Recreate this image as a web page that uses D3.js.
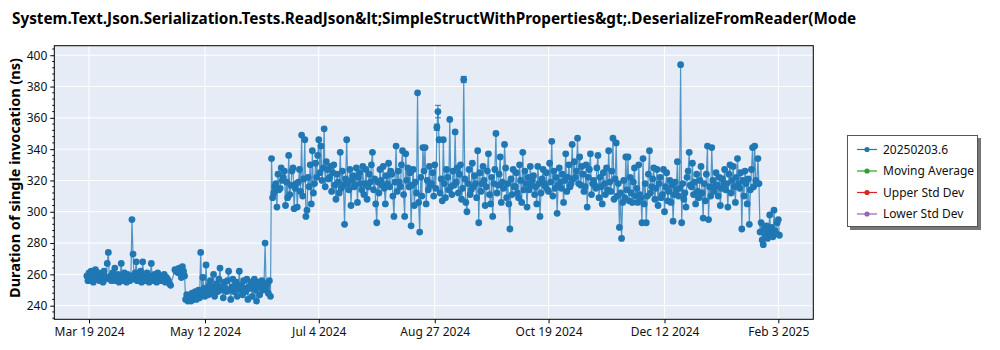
<!DOCTYPE html>
<html><head><meta charset="utf-8">
<script src="https://cdn.jsdelivr.net/npm/d3@7"></script>
<style>
body{margin:0;background:#fff;}
svg{display:block;font-family:"Noto Sans",sans-serif;}
</style>
</head><body>
<svg id="chart" width="1000" height="350"></svg>
<script>
const titleText = "System.Text.Json.Serialization.Tests.ReadJson&lt;SimpleStructWithProperties&gt;.DeserializeFromReader(Mode";
const yLabelText = "Duration of single invocation (ns)";
const startTime = "2024-03-18T00:00:00";
const stepHours = 12;
// two measurements per day, null = no run
const values = [
 // Mar 18 - Apr 26
 259,256,261,257,262,258,255,260,263,257,258,261,256,259,260,255,262,257,258,267,
 274,257,259,256,261,258,264,256,257,260,255,259,267,256,258,261,257,255,260,258,
 256,259,295,273,257,261,268,256,259,257,262,255,268,258,256,260,261,257,255,259,
 267,256,258,260,257,255,261,256,259,258,256,257,260,255,258,257,256,254,253,null,
 null,null,263,262,263,261,264,262,258,265,262,259,
 // May 3 - Jun 11
 244,247,243,246,245,243,248,244,246,249,244,247,250,245,274,248,258,251,246,266,
 250,247,253,256,248,252,260,246,251,254,249,257,264,250,252,245,255,251,249,256,
 262,250,244,252,257,249,251,255,246,253,262,250,253,247,256,251,249,257,244,252,
 251,255,246,253,257,250,243,252,255,247,252,256,250,254,280,251,254,248,256,246,
 // Jun 12 - Jan 24
 334,309,312,316,318,303,324,314,315,328,320,322,326,304,319,309,336,311,317,326,
 328,302,315,318,303,319,327,313,349,310,321,346,297,301,322,316,330,305,339,312,
 318,331,322,336,346,325,342,320,328,353,316,332,327,321,322,329,313,325,330,317,
 308,324,319,312,338,315,326,317,292,321,346,318,314,327,304,320,323,316,317,328,
 306,322,325,318,314,329,311,318,327,308,316,324,319,330,338,314,321,305,293,319,
 312,327,320,317,329,315,305,323,318,331,316,326,324,310,297,319,342,313,326,319,
 316,330,339,311,297,337,320,328,316,325,291,317,327,304,319,312,376,306,287,322,
 310,341,326,341,305,320,314,329,317,318,325,310,330,315,354,364,346,312,321,307,
 346,318,309,327,322,314,359,316,311,326,317,351,319,328,312,324,330,308,315,384.5,
 321,306,300,318,327,311,314,331,316,323,318,309,339,293,325,313,318,329,320,304,
 316,326,337,311,305,322,297,318,327,350,312,317,324,335,306,319,315,343,328,309,
 318,305,289,321,311,327,316,316,325,312,309,330,320,306,338,314,326,318,303,322,
 314,329,317,320,323,311,316,305,329,318,297,312,321,327,318,316,325,314,313,331,
 319,345,310,326,315,322,299,317,328,319,315,324,306,320,337,313,322,330,316,318,
 343,321,332,322,326,347,318,335,317,329,324,313,316,330,303,322,327,337,311,318,
 320,317,315,328,336,309,322,316,305,325,318,311,328,314,339,319,313,326,347,308,
 321,344,310,318,290,312,283,306,320,309,335,314,335,307,322,312,306,319,328,310,
 315,306,330,311,309,293,334,305,318,293,310,324,339,312,316,321,328,308,315,327,
 304,318,322,309,311,327,300,316,325,307,313,320,306,317,294,311,319,314,332,310,
 315,394,293,318,308,312,303,322,326,338,317,316,331,311,319,305,324,313,309,320,
 329,312,296,318,307,324,342,295,316,310,341,320,313,316,325,317,310,322,304,315,
 321,318,327,314,318,303,324,330,312,320,329,316,306,322,334,318,315,325,289,320,
 310,326,318,305,321,292,314,327,341,316,342,320,318,334,
 // Jan 25 - Feb 3
 318,287,293,282,279,289,285,291,283,288,298,286,290,284,301,288,286,293,295,285
];
const errTimes = ["2024-08-28T00:00:00","2024-08-28T12:00:00","2024-09-09T12:00:00"];
const errSizes = [2, 4, 2];
const xTickDates = ["2024-03-19","2024-05-12","2024-07-04","2024-08-27","2024-10-19","2024-12-12","2025-02-03"];
const xTickLabels = ["Mar 19 2024","May 12 2024","Jul 4 2024","Aug 27 2024","Oct 19 2024","Dec 12 2024","Feb 3 2025"];
const yTicks = [240,260,280,300,320,340,360,380,400];
const legendNames = ["20250203.6","Moving Average","Upper Std Dev","Lower Std Dev"];
const legendColors = ["#1f77b4","#2ca02c","#d62728","#9467bd"];

const svg = d3.select("#chart");
const L = 54.3, R = 813.3, T = 45.7, B = 319.3;
const parse = s => new Date(s);
const x = d3.scaleTime().domain([parse("2024-03-02T20:00:00"), parse("2025-02-19T07:00:00")]).range([L, R]);
const y = d3.scaleLinear().domain([231.3, 406.1]).range([B, T]);

const t0 = parse(startTime).getTime();
const data = values.map((v, i) => ({t: new Date(t0 + i * stepHours * 3600e3), v}))
  .filter(d => d.v !== null);

// title
const title = svg.append("text").attr("x", 12).attr("y", 24)
  .attr("font-weight", "bold").attr("font-size", 15).attr("fill", "#000").text(titleText);
const tw = title.node().getComputedTextLength();
title.attr("font-size", 15 * 845 / tw);

// plot background
svg.append("rect").attr("x", L).attr("y", T).attr("width", R - L).attr("height", B - T).attr("fill", "#e5ecf6");

// grid
const tickDates = xTickDates.map(parse);
svg.append("g").selectAll("line").data(tickDates).join("line")
  .attr("x1", d => x(d)).attr("x2", d => x(d)).attr("y1", T).attr("y2", B)
  .attr("stroke", "#fff").attr("stroke-width", 1);
svg.append("g").selectAll("line").data(yTicks).join("line")
  .attr("x1", L).attr("x2", R).attr("y1", d => y(d)).attr("y2", d => y(d))
  .attr("stroke", "#fff").attr("stroke-width", 1);

// clip
svg.append("clipPath").attr("id", "clip").append("rect")
  .attr("x", L).attr("y", T).attr("width", R - L).attr("height", B - T);
const plot = svg.append("g").attr("clip-path", "url(#clip)");

const line = d3.line().x(d => x(d.t)).y(d => y(d.v));
plot.append("path").datum(data).attr("d", line)
  .attr("fill", "none").attr("stroke", "#1f77b4").attr("stroke-width", 1.2).attr("stroke-opacity", 0.75);

// error bars
const errData = errTimes.map((s, i) => {
  const tt = parse(s).getTime();
  const p = data.find(d => d.t.getTime() === tt);
  return {t: p.t, v: p.v, e: errSizes[i]};
});
const eg = plot.append("g").attr("stroke", "#1f77b4").attr("stroke-width", 1);
errData.forEach(d => {
  const cx = x(d.t);
  eg.append("line").attr("x1", cx).attr("x2", cx).attr("y1", y(d.v - d.e)).attr("y2", y(d.v + d.e));
  eg.append("line").attr("x1", cx - 3).attr("x2", cx + 3).attr("y1", y(d.v + d.e)).attr("y2", y(d.v + d.e));
  eg.append("line").attr("x1", cx - 3).attr("x2", cx + 3).attr("y1", y(d.v - d.e)).attr("y2", y(d.v - d.e));
});

plot.append("g").selectAll("circle").data(data).join("circle")
  .attr("cx", d => x(d.t)).attr("cy", d => y(d.v)).attr("r", 3.4).attr("fill", "#1f77b4");

// frame
svg.append("rect").attr("x", L).attr("y", T).attr("width", R - L).attr("height", B - T)
  .attr("fill", "none").attr("stroke", "#000").attr("stroke-width", 1);

// y axis
const yAxis = d3.axisLeft(y).tickValues(yTicks).tickSize(4).tickPadding(3).tickFormat(d3.format("d"));
const gy = svg.append("g").attr("transform", `translate(${L},0)`).call(yAxis);
gy.select(".domain").remove();
gy.selectAll("text").attr("font-size", 12).attr("font-family", "'Noto Sans',sans-serif").attr("fill", "#111");
const minorY = d3.range(232, 406, 4).filter(v => v % 20 !== 0);
svg.append("g").selectAll("line").data(minorY).join("line")
  .attr("x1", L - 2).attr("x2", L).attr("y1", d => y(d)).attr("y2", d => y(d)).attr("stroke", "#000");

// x axis
const xAxis = d3.axisBottom(x).tickValues(tickDates).tickSize(4).tickPadding(4)
  .tickFormat((d, i) => xTickLabels[i]);
const gx = svg.append("g").attr("transform", `translate(0,${B})`).call(xAxis);
gx.select(".domain").remove();
gx.selectAll("text").attr("font-size", 12).attr("font-family", "'Noto Sans',sans-serif").attr("fill", "#111");

// y label
const yl = svg.append("text").attr("transform", "translate(20,178) rotate(-90)")
  .attr("text-anchor", "middle").attr("font-weight", "bold").attr("font-size", 17).attr("fill", "#000")
  .text(yLabelText);
const yw = yl.node().getComputedTextLength();
yl.attr("font-size", 17 * 240 / yw);

// legend
const lg = svg.append("g");
lg.append("rect").attr("x", 850).attr("y", 138).attr("width", 131).attr("height", 92).attr("fill", "#777");
lg.append("rect").attr("x", 847.5).attr("y", 135.5).attr("width", 130).attr("height", 91)
  .attr("fill", "#fff").attr("stroke", "#555").attr("stroke-width", 1);
legendNames.forEach((n, i) => {
  const cy = 149.5 + i * 21.5;
  lg.append("line").attr("x1", 857).attr("x2", 877).attr("y1", cy).attr("y2", cy)
    .attr("stroke", legendColors[i]).attr("stroke-width", 1.2);
  lg.append("circle").attr("cx", 867).attr("cy", cy).attr("r", 2.6).attr("fill", legendColors[i]);
  lg.append("text").attr("x", 883).attr("y", cy + 4).attr("font-size", 12).attr("fill", "#111").text(n);
});
</script>
</body></html>
